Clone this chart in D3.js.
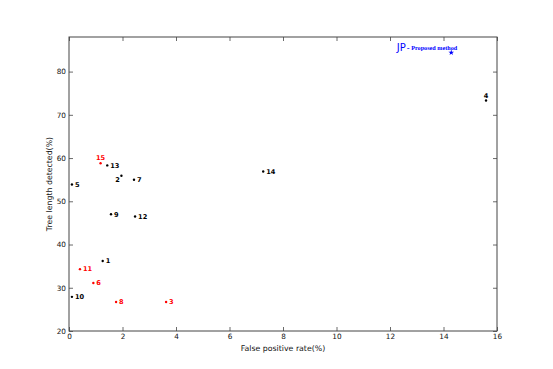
<!DOCTYPE html>
<html><head><meta charset="utf-8">
<script src="https://cdn.jsdelivr.net/npm/d3@7"></script>
<style>body{margin:0;background:#fff}svg{display:block}</style>
</head><body>
<script>
const ids        = ["1","2","3","4","5","6","7","8","9","10","11","12","13","14","15"];
const fpr        = [1.26,1.96,3.63,15.59,0.11,0.91,2.43,1.76,1.57,0.11,0.41,2.47,1.43,7.26,1.18];
const detected   = [36.2,55.9,26.7,73.3,53.9,31.1,55.0,26.7,47.0,27.9,34.3,46.5,58.3,56.9,58.8];
const highlight  = [false,false,true,false,false,true,false,true,false,false,true,false,false,false,true];
const labelSide  = ["right","left","right","above","right","right","right","right","right","right","right","right","right","right","above"];
const proposedName = "Proposed method";
const proposedTag  = "JP";
const proposedFpr  = [14.29];
const proposedDet  = [84.4];
const xTicks = [0,2,4,6,8,10,12,14,16];
const yTicks = [20,30,40,50,60,70,80];
const xLabel = "False positive rate(%)";
const yLabel = "Tree length detected(%)";

const W = 553, H = 369;
const m = {l:69, r:56, t:37, b:38};
const svg = d3.select("body").append("svg").attr("width",W).attr("height",H);
const x = d3.scaleLinear().domain([0,16]).range([m.l, W-m.r]);
const y = d3.scaleLinear().domain([20,88]).range([H-m.b, m.t]);
const font = "DejaVu Sans, sans-serif";
const frame = "#444";

function styleAxis(g, hideText){
  g.select(".domain").remove();
  g.selectAll("line").attr("stroke",frame).attr("stroke-width",0.8);
  g.selectAll("text").attr("font-family",font).attr("font-size",7.3).attr("fill","#111");
  if(hideText) g.selectAll("text").remove();
}
svg.append("g").attr("transform",`translate(0,${y(20)})`)
  .call(d3.axisBottom(x).tickValues(xTicks).tickFormat(d3.format("d")).tickSizeInner(-4).tickPadding(3))
  .call(g=>styleAxis(g,false));
svg.append("g").attr("transform",`translate(0,${y(88)})`)
  .call(d3.axisTop(x).tickValues(xTicks).tickSizeInner(-4))
  .call(g=>styleAxis(g,true));
svg.append("g").attr("transform",`translate(${x(0)},0)`)
  .call(d3.axisLeft(y).tickValues(yTicks).tickFormat(d3.format("d")).tickSizeInner(-4).tickPadding(3))
  .call(g=>styleAxis(g,false));
svg.append("g").attr("transform",`translate(${x(16)},0)`)
  .call(d3.axisRight(y).tickValues(yTicks).tickSizeInner(-4))
  .call(g=>styleAxis(g,true));

svg.append("rect").attr("x",x(0)).attr("y",y(88)).attr("width",x(16)-x(0)).attr("height",y(20)-y(88))
  .attr("fill","none").attr("stroke",frame).attr("stroke-width",1);

svg.append("text").attr("x",(x(0)+x(16))/2).attr("y",H-18.5).attr("text-anchor","middle")
  .attr("font-family",font).attr("font-size",7.8).attr("fill","#111").text(xLabel);
svg.append("text").attr("transform",`translate(52,${(y(20)+y(88))/2}) rotate(-90)`).attr("text-anchor","middle")
  .attr("font-family",font).attr("font-size",7.8).attr("fill","#111").text(yLabel);

const pts = ids.map((id,i)=>({id, fx:fpr[i], dv:detected[i], hl:highlight[i], side:labelSide[i]}));
const gp = svg.append("g");
gp.selectAll("circle").data(pts).join("circle")
  .attr("cx",d=>x(d.fx)).attr("cy",d=>y(d.dv)).attr("r",1.2)
  .attr("fill",d=>d.hl?"#ff0000":"#000");
gp.selectAll("text").data(pts).join("text")
  .attr("x",d=>x(d.fx)+(d.side==="right"?3:d.side==="left"?-1.5:0))
  .attr("y",d=>y(d.dv)+(d.side==="above"?-3:d.side==="left"?6:2.3))
  .attr("text-anchor",d=>d.side==="right"?"start":d.side==="left"?"end":"middle")
  .attr("font-family",font).attr("font-weight","bold").attr("font-size",6.6)
  .attr("fill",d=>d.hl?"#ff0000":"#000").text(d=>d.id);

const star = d3.symbol().type(d3.symbolStar).size(10);
svg.selectAll(".prop").data(proposedFpr).join("path").attr("class","prop")
  .attr("d",star).attr("transform",(d,i)=>`translate(${x(d)},${y(proposedDet[i])})`).attr("fill","#0000ff");
const lt = svg.append("text").attr("x",x(proposedFpr[0])-54.5).attr("y",y(proposedDet[0])-1.5).attr("fill","#0000ff");
lt.append("tspan").attr("font-family",font).attr("font-size",10).text(proposedTag);
lt.append("tspan").attr("font-family",font).attr("font-size",8).attr("dx",1).text("-");
lt.append("tspan").attr("font-family","Liberation Serif, serif").attr("font-weight","bold").attr("font-size",6.2).attr("dx",1.5).attr("dy",-1).text(proposedName);
</script>
</body></html>
